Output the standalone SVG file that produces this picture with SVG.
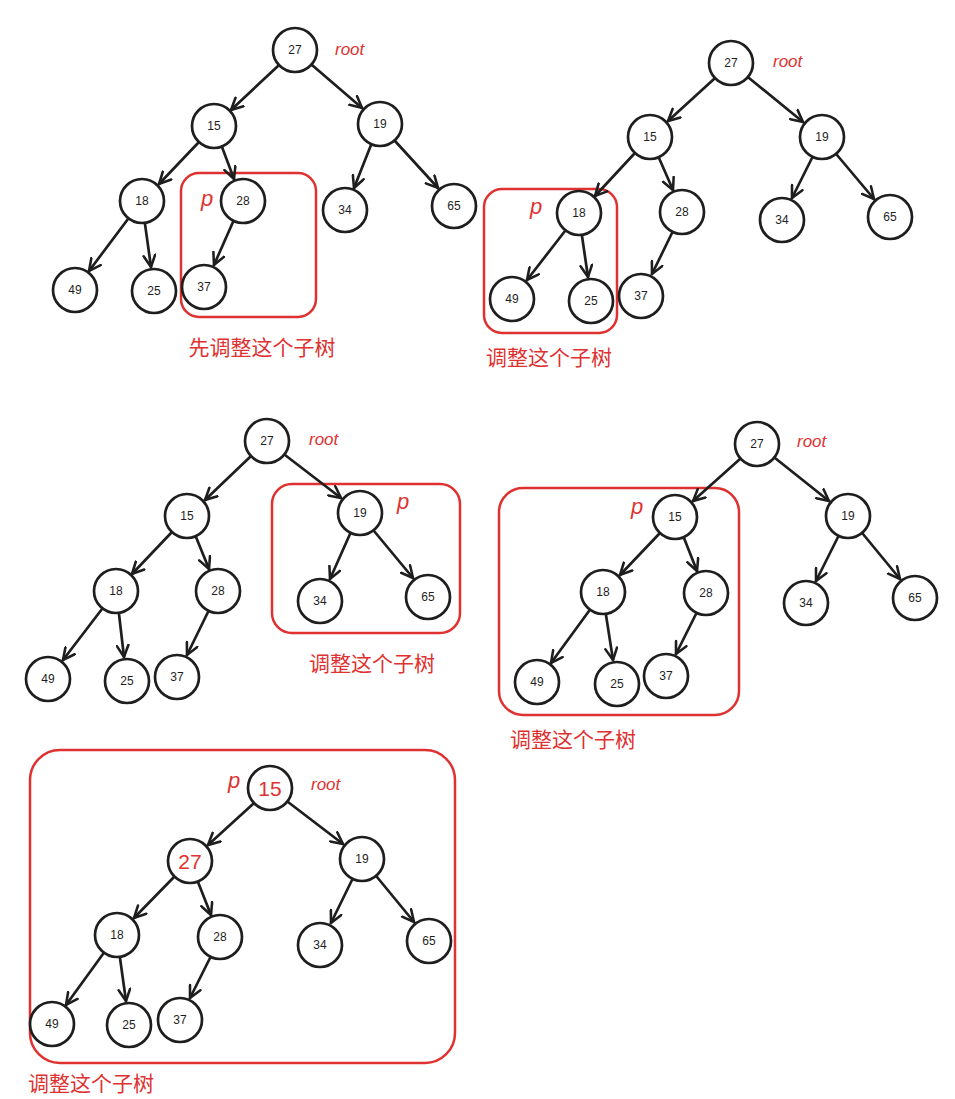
<svg xmlns="http://www.w3.org/2000/svg" width="955" height="1099" viewBox="0 0 955 1099">
<style>
.n circle{fill:#fff;stroke:#1e1e1e;stroke-width:2.7}
.n text{font-family:"Liberation Sans",sans-serif;font-size:12px;fill:#1e1e1e;text-anchor:middle;dominant-baseline:central}
.n text.big{font-size:21px;fill:#e03131}
.e line{stroke:#1e1e1e;stroke-width:2.7;stroke-linecap:round;marker-end:url(#a)}
.box{fill:none;stroke:#e03131;stroke-width:2.5}
.lbl{font-family:"Noto Sans CJK SC",sans-serif;font-size:21px;fill:#e03131;text-anchor:middle}
.r{font-family:"Liberation Sans",sans-serif;font-size:17px;fill:#e03131;font-style:italic}
.p{font-family:"Liberation Sans",sans-serif;font-size:22px;fill:#e03131;font-style:italic}
</style>
<defs><marker id="a" viewBox="0 0 12 12" markerWidth="14" markerHeight="14" refX="11" refY="6" orient="auto" markerUnits="userSpaceOnUse"><path d="M1,1 L11,6 L1,11" fill="none" stroke="#1e1e1e" stroke-width="2.2" stroke-linecap="round"/></marker></defs>
<rect width="955" height="1099" fill="#fff"/>
<g id="boxes">
<rect class="box" x="181" y="173" width="135" height="144" rx="18"/>
<rect class="box" x="484" y="189" width="133" height="144" rx="18"/>
<rect class="box" x="272" y="484" width="188" height="149" rx="20"/>
<rect class="box" x="499" y="488" width="240" height="227" rx="24"/>
<rect class="box" x="30" y="750" width="425" height="313" rx="30"/>
</g>
<g id="connectors" class="e">
<line x1="278" y1="66" x2="231" y2="110"/><line x1="312" y1="65" x2="362" y2="108"/><line x1="198" y1="143" x2="159" y2="184"/><line x1="222" y1="147" x2="234" y2="179"/><line x1="371" y1="145" x2="354" y2="188"/><line x1="395" y1="141" x2="438" y2="188"/><line x1="128" y1="219" x2="89" y2="271"/><line x1="145" y1="224" x2="151" y2="267"/><line x1="233" y1="222" x2="214" y2="265"/>
<line x1="714" y1="79" x2="668" y2="121"/><line x1="749" y1="78" x2="803" y2="122"/><line x1="634" y1="154" x2="595" y2="196"/><line x1="659" y1="158" x2="673" y2="190"/><line x1="812" y1="158" x2="792" y2="198"/><line x1="837" y1="155" x2="874" y2="199"/><line x1="565" y1="231" x2="527" y2="280"/><line x1="582" y1="236" x2="588" y2="277"/><line x1="672" y1="233" x2="652" y2="274"/>
<line x1="250" y1="457" x2="205" y2="500"/><line x1="285" y1="455" x2="341" y2="498"/><line x1="171" y1="533" x2="132" y2="574"/><line x1="196" y1="537" x2="209" y2="569"/><line x1="350" y1="534" x2="330" y2="579"/><line x1="374" y1="531" x2="413" y2="578"/><line x1="102" y1="609" x2="63" y2="660"/><line x1="119" y1="614" x2="124" y2="657"/><line x1="208" y1="612" x2="187" y2="655"/>
<line x1="740" y1="459" x2="693" y2="501"/><line x1="775" y1="458" x2="829" y2="501"/><line x1="659" y1="534" x2="620" y2="575"/><line x1="684" y1="538" x2="697" y2="571"/><line x1="838" y1="537" x2="816" y2="581"/><line x1="863" y1="534" x2="900" y2="579"/><line x1="589" y1="611" x2="551" y2="663"/><line x1="606" y1="615" x2="613" y2="660"/><line x1="696" y1="614" x2="676" y2="654"/>
<line x1="253" y1="804" x2="208" y2="845"/><line x1="288" y1="802" x2="343" y2="844"/><line x1="174" y1="877" x2="134" y2="918"/><line x1="198" y1="882" x2="211" y2="915"/><line x1="352" y1="880" x2="331" y2="923"/><line x1="377" y1="877" x2="414" y2="922"/><line x1="103" y1="954" x2="66" y2="1005"/><line x1="120" y1="958" x2="126" y2="1001"/><line x1="210" y1="958" x2="190" y2="998"/>
</g>
<g id="t1">
<g id="t1n27" class="n"><circle cx="295" cy="50" r="22"/><text x="295" y="50">27</text></g>
<g id="t1n15" class="n"><circle cx="214" cy="126" r="22"/><text x="214" y="126">15</text></g>
<g id="t1n19" class="n"><circle cx="380" cy="124" r="22"/><text x="380" y="124">19</text></g>
<g id="t1n18" class="n"><circle cx="142" cy="201" r="22"/><text x="142" y="201">18</text></g>
<g id="t1n28" class="n"><circle cx="243" cy="201" r="22"/><text x="243" y="201">28</text></g>
<g id="t1n34" class="n"><circle cx="345" cy="210" r="22"/><text x="345" y="210">34</text></g>
<g id="t1n65" class="n"><circle cx="454" cy="206" r="22"/><text x="454" y="206">65</text></g>
<g id="t1n49" class="n"><circle cx="75" cy="290" r="22"/><text x="75" y="290">49</text></g>
<g id="t1n25" class="n"><circle cx="154" cy="291" r="22"/><text x="154" y="291">25</text></g>
<g id="t1n37" class="n"><circle cx="204" cy="287" r="22"/><text x="204" y="287">37</text></g>
</g>
<g id="t2">
<g id="t2n27" class="n"><circle cx="731" cy="63" r="22"/><text x="731" y="63">27</text></g>
<g id="t2n15" class="n"><circle cx="650" cy="137" r="22"/><text x="650" y="137">15</text></g>
<g id="t2n19" class="n"><circle cx="822" cy="137" r="22"/><text x="822" y="137">19</text></g>
<g id="t2n18" class="n"><circle cx="579" cy="213" r="22"/><text x="579" y="213">18</text></g>
<g id="t2n28" class="n"><circle cx="682" cy="212" r="22"/><text x="682" y="212">28</text></g>
<g id="t2n34" class="n"><circle cx="782" cy="220" r="22"/><text x="782" y="220">34</text></g>
<g id="t2n65" class="n"><circle cx="890" cy="217" r="22"/><text x="890" y="217">65</text></g>
<g id="t2n49" class="n"><circle cx="512" cy="299" r="22"/><text x="512" y="299">49</text></g>
<g id="t2n25" class="n"><circle cx="591" cy="301" r="22"/><text x="591" y="301">25</text></g>
<g id="t2n37" class="n"><circle cx="641" cy="296" r="22"/><text x="641" y="296">37</text></g>
</g>
<g id="t3">
<g id="t3n27" class="n"><circle cx="267" cy="441" r="22"/><text x="267" y="441">27</text></g>
<g id="t3n15" class="n"><circle cx="187" cy="516" r="22"/><text x="187" y="516">15</text></g>
<g id="t3n19" class="n"><circle cx="360" cy="513" r="22"/><text x="360" y="513">19</text></g>
<g id="t3n18" class="n"><circle cx="116" cy="591" r="22"/><text x="116" y="591">18</text></g>
<g id="t3n28" class="n"><circle cx="218" cy="591" r="22"/><text x="218" y="591">28</text></g>
<g id="t3n34" class="n"><circle cx="320" cy="601" r="22"/><text x="320" y="601">34</text></g>
<g id="t3n65" class="n"><circle cx="428" cy="597" r="22"/><text x="428" y="597">65</text></g>
<g id="t3n49" class="n"><circle cx="48" cy="679" r="22"/><text x="48" y="679">49</text></g>
<g id="t3n25" class="n"><circle cx="127" cy="681" r="22"/><text x="127" y="681">25</text></g>
<g id="t3n37" class="n"><circle cx="177" cy="677" r="22"/><text x="177" y="677">37</text></g>
</g>
<g id="t4">
<g id="t4n27" class="n"><circle cx="757" cy="444" r="22"/><text x="757" y="444">27</text></g>
<g id="t4n15" class="n"><circle cx="675" cy="517" r="22"/><text x="675" y="517">15</text></g>
<g id="t4n19" class="n"><circle cx="848" cy="516" r="22"/><text x="848" y="516">19</text></g>
<g id="t4n18" class="n"><circle cx="603" cy="592" r="22"/><text x="603" y="592">18</text></g>
<g id="t4n28" class="n"><circle cx="706" cy="593" r="22"/><text x="706" y="593">28</text></g>
<g id="t4n34" class="n"><circle cx="806" cy="603" r="22"/><text x="806" y="603">34</text></g>
<g id="t4n65" class="n"><circle cx="915" cy="598" r="22"/><text x="915" y="598">65</text></g>
<g id="t4n49" class="n"><circle cx="537" cy="682" r="22"/><text x="537" y="682">49</text></g>
<g id="t4n25" class="n"><circle cx="617" cy="684" r="22"/><text x="617" y="684">25</text></g>
<g id="t4n37" class="n"><circle cx="666" cy="676" r="22"/><text x="666" y="676">37</text></g>
</g>
<g id="t5">
<g id="t5n15" class="n"><circle cx="270" cy="788" r="22"/><text class="big" x="270" y="788">15</text></g>
<g id="t5n27" class="n"><circle cx="190" cy="861" r="22"/><text class="big" x="190" y="861">27</text></g>
<g id="t5n19" class="n"><circle cx="362" cy="859" r="22"/><text x="362" y="859">19</text></g>
<g id="t5n18" class="n"><circle cx="117" cy="935" r="22"/><text x="117" y="935">18</text></g>
<g id="t5n28" class="n"><circle cx="220" cy="937" r="22"/><text x="220" y="937">28</text></g>
<g id="t5n34" class="n"><circle cx="320" cy="945" r="22"/><text x="320" y="945">34</text></g>
<g id="t5n65" class="n"><circle cx="429" cy="941" r="22"/><text x="429" y="941">65</text></g>
<g id="t5n49" class="n"><circle cx="52" cy="1024" r="22"/><text x="52" y="1024">49</text></g>
<g id="t5n25" class="n"><circle cx="129" cy="1025" r="22"/><text x="129" y="1025">25</text></g>
<g id="t5n37" class="n"><circle cx="180" cy="1020" r="22"/><text x="180" y="1020">37</text></g>
</g>
<g id="annotations">
<text class="r" x="335" y="55">root</text><text class="r" x="773" y="67">root</text><text class="r" x="309" y="445">root</text><text class="r" x="797" y="447">root</text><text class="r" x="311" y="790">root</text>
<text class="p" x="201" y="206">p</text><text class="p" x="530" y="214">p</text><text class="p" x="397" y="509">p</text><text class="p" x="631" y="514">p</text><text class="p" x="228" y="788">p</text>
<text class="lbl" x="262" y="355">先调整这个子树</text>
<text class="lbl" x="549" y="365">调整这个子树</text>
<text class="lbl" x="372" y="671">调整这个子树</text>
<text class="lbl" x="573" y="747">调整这个子树</text>
<text class="lbl" x="91" y="1091">调整这个子树</text>
</g>
</svg>
